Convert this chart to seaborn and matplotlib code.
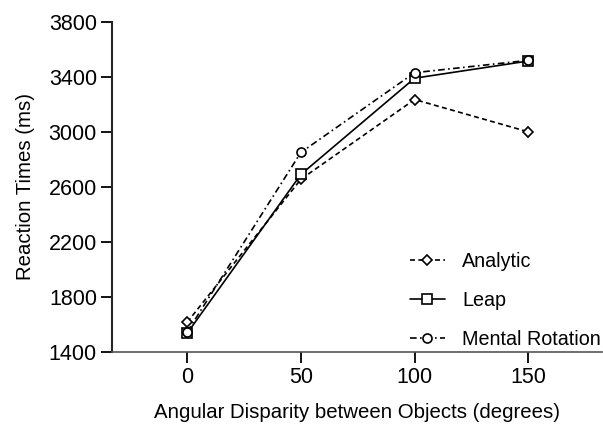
import pandas as pd
import numpy as np
import seaborn as sns
import matplotlib.pyplot as plt

# values
angles = [0, 50, 100, 150]
analytic = [1615, 2655, 3235, 3000]
leap = [1535, 2690, 3390, 3515]
mental_rotation = [1545, 2850, 3430, 3520]
conditions = ['Analytic', 'Leap', 'Mental Rotation']
y_ticks = [1400, 1800, 2200, 2600, 3000, 3400, 3800]

df = pd.DataFrame({
    'angle': angles * 3,
    'rt': analytic + leap + mental_rotation,
    'condition': np.repeat(conditions, len(angles)),
})

sns.set_style('ticks', {'text.color': 'black', 'axes.labelcolor': 'black',
                        'xtick.color': 'black', 'ytick.color': 'black'})
plt.rcParams['font.family'] = ['Liberation Sans', 'DejaVu Sans']

fig = plt.figure(figsize=(6.03, 4.28), dpi=100)
ax = fig.add_axes([0.186, 0.178, 0.813, 0.771])

sns.lineplot(data=df, x='angle', y='rt', hue='condition', style='condition',
             hue_order=conditions, style_order=conditions,
             palette=['black'] * 3,
             markers={'Analytic': 'D', 'Leap': 's', 'Mental Rotation': 'o'},
             dashes={'Analytic': (3, 2), 'Leap': '', 'Mental Rotation': (4, 2, 1, 2)},
             linewidth=1.2, markersize=6.5, legend=False, ax=ax)

lines = ax.lines[:3]
for ln, name in zip(lines, conditions):
    ln.set_markerfacecolor('white')
    ln.set_markeredgecolor('black')
    ln.set_markeredgewidth(1.2)
    if name == 'Analytic':
        ln.set_markersize(5.5)
    ln.set_label(name)

ax.set_xlim(-33, 182.6)
ax.set_ylim(1400, 3800)
ax.set_xticks(angles)
ax.set_yticks(y_ticks)
ax.tick_params(labelsize=15.5, length=8, width=1.3, color='black', pad=3)
ax.set_xlabel('Angular Disparity between Objects (degrees)', fontsize=14.7, labelpad=11)
ax.set_ylabel('Reaction Times (ms)', fontsize=14.7, labelpad=10)
sns.despine(ax=ax)
ax.spines['left'].set_linewidth(1.5)
ax.spines['bottom'].set_linewidth(1.2)
ax.spines['bottom'].set_color('#555555')

ax.legend(handles=lines, loc='upper left', bbox_to_anchor=(0.65, 0.452),
          bbox_transform=fig.transFigure, frameon=False, fontsize=14.2,
          handlelength=1.8, handletextpad=0.85, labelspacing=1.0)

plt.savefig('out.png', dpi=100)
